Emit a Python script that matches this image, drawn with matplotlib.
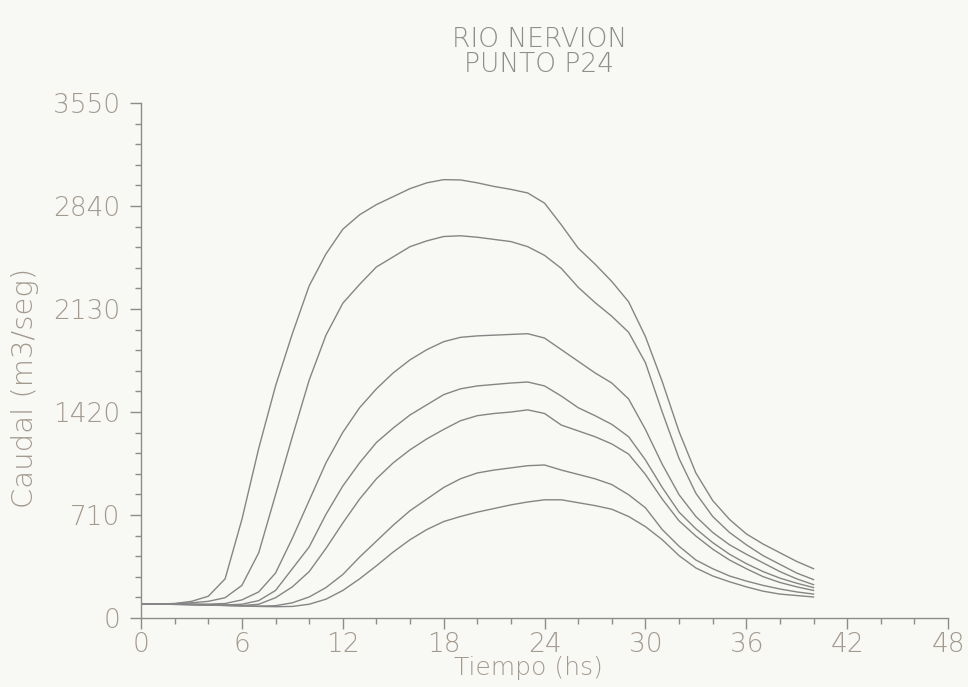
import numpy as np
import matplotlib
matplotlib.use('Agg')
import matplotlib.pyplot as plt
from matplotlib.ticker import MultipleLocator

# hours (read every hour from the scan)
hours = list(range(0, 41))

# caudal (m3/seg) for the 7 hydrographs, top to bottom
q1 = [97, 97, 100, 115, 150, 270, 680, 1170, 1600, 1960, 2290, 2510, 2680, 2780, 2850,
      2905, 2960, 3000, 3022, 3020, 3000, 2975, 2955, 2930, 2860, 2710, 2550, 2440, 2320,
      2180, 1940, 1630, 1285, 1000, 810, 680, 580, 510, 450, 390, 340]
q2 = [97, 97, 99, 105, 115, 140, 225, 450, 850, 1250, 1640, 1950, 2170, 2300, 2420,
      2490, 2560, 2600, 2630, 2635, 2625, 2610, 2595, 2560, 2500, 2410, 2280, 2175, 2080,
      1970, 1760, 1420, 1100, 860, 700, 590, 505, 430, 370, 310, 265]
q3 = [97, 97, 97, 96, 96, 100, 125, 180, 310, 550, 810, 1070, 1280, 1450, 1580,
      1690, 1780, 1850, 1905, 1935, 1945, 1950, 1955, 1960, 1930, 1850, 1770, 1690, 1620,
      1510, 1300, 1060, 850, 700, 590, 505, 440, 380, 320, 270, 230]
q4 = [97, 96, 95, 94, 92, 90, 95, 120, 190, 340, 490, 715, 910, 1070, 1210,
      1310, 1400, 1470, 1540, 1580, 1600, 1610, 1620, 1627, 1600, 1530, 1450, 1395, 1335,
      1250, 1090, 900, 730, 615, 520, 440, 375, 320, 275, 240, 210]
q5 = [97, 96, 95, 93, 90, 88, 86, 95, 140, 215, 320, 480, 655, 820, 960,
      1070, 1160, 1235, 1300, 1360, 1395, 1410, 1420, 1435, 1410, 1330, 1290, 1250, 1200,
      1130, 990, 820, 670, 565, 475, 400, 340, 285, 245, 215, 190]
q6 = [97, 96, 94, 92, 90, 87, 84, 82, 85, 105, 145, 210, 300, 420, 530,
      640, 740, 820, 900, 960, 1000, 1020, 1035, 1050, 1055, 1020, 990, 960, 920,
      850, 760, 610, 495, 400, 340, 290, 255, 225, 200, 180, 165]
q7 = [97, 96, 94, 92, 89, 86, 83, 80, 78, 80, 95, 130, 190, 270, 360,
      455, 540, 610, 665, 700, 730, 755, 780, 800, 815, 815, 795, 775, 750,
      700, 630, 540, 430, 345, 290, 250, 215, 185, 165, 155, 145]
series = [q1, q2, q3, q4, q5, q6, q7]

x_ticks = [0, 6, 12, 18, 24, 30, 36, 42, 48]
y_ticks = [0, 710, 1420, 2130, 2840, 3550]

bg = '#f8f8f5'
line_col = '#858585'
txt_col = '#a39a8e'

plt.rcParams['font.family'] = ['DejaVu Sans']
fig = plt.figure(figsize=(9.68, 6.87), dpi=100, facecolor=bg)
ax = fig.add_axes([0.1457, 0.1004, 0.8337, 0.7496], facecolor=bg)

for q in series:
    ax.plot(hours, q, color=line_col, lw=1.0, solid_joinstyle='round')

ax.set_xlim(0, 48)
ax.set_ylim(0, 3550)
ax.set_xticks(x_ticks)
ax.set_yticks(y_ticks)
ax.xaxis.set_minor_locator(MultipleLocator(2))
ax.yaxis.set_minor_locator(MultipleLocator(142))

for s in ['top', 'right']:
    ax.spines[s].set_visible(False)
for s in ['left', 'bottom']:
    ax.spines[s].set_color('#8c8c8c')
    ax.spines[s].set_linewidth(1.0)

ax.tick_params(which='major', direction='out', length=8, width=1, color='#8c8c8c',
               labelcolor=txt_col, labelsize=19)
ax.tick_params(which='minor', direction='out', length=4, width=1, color='#8c8c8c')
ax.tick_params(axis='y', which='major', pad=7)
ax.tick_params(axis='x', which='major', pad=2)
for lab in ax.get_xticklabels() + ax.get_yticklabels():
    lab.set_fontweight('light')

ax.set_xlabel('Tiempo (hs)', fontsize=18, color=txt_col, fontweight='light')
ax.xaxis.set_label_coords(0.48, -0.074)
ax.xaxis.label.set_va('top')
ax.set_ylabel('Caudal (m3/seg)', fontsize=21, color=txt_col, fontweight='light')
ax.yaxis.set_label_coords(-0.144, 0.447)
ax.yaxis.label.set_va('center')

fig.text(0.557, 0.961, 'RIO NERVION', ha='center', va='top', fontsize=19,
         color='#8e8e8e', fontweight='light')
fig.text(0.557, 0.925, 'PUNTO P24', ha='center', va='top', fontsize=19,
         color='#8e8e8e', fontweight='light')

fig.savefig('out.png', dpi=100, facecolor=bg)
